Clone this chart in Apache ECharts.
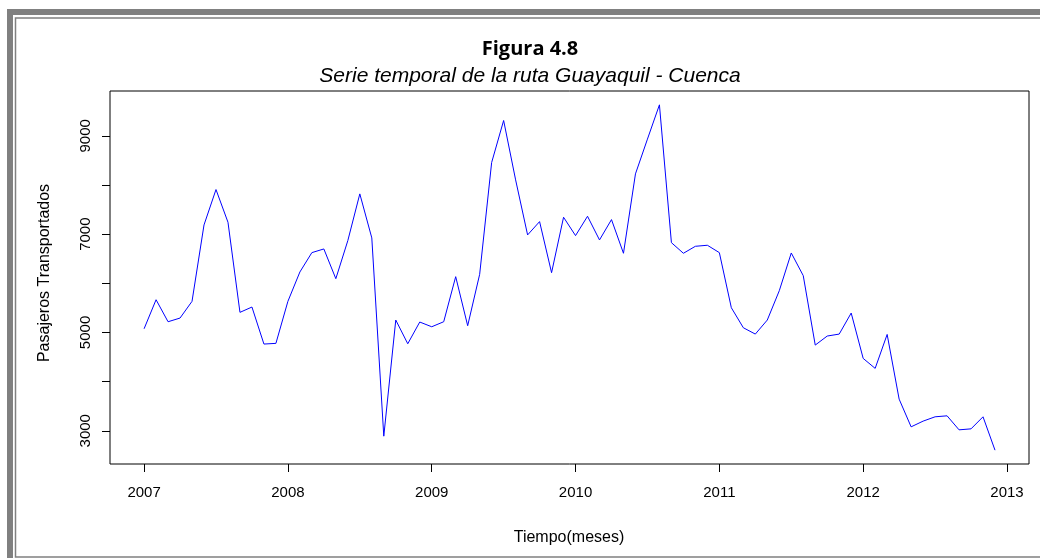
<!DOCTYPE html>
<html>
<head>
<meta charset="utf-8">
<script src="https://cdn.jsdelivr.net/npm/echarts@6/dist/echarts.min.js"></script>
<style>
  html, body { margin: 0; padding: 0; background: #fff; }
  #main { width: 1040px; height: 558px; }
</style>
</head>
<body>
<div id="main"></div>
<script>
// pasajeros por mes, ruta Guayaquil - Cuenca
const anioInicio = 2007;
const pas2007 = [5075, 5666, 5218, 5293, 5633, 7187, 7907, 7242, 5409, 5517, 4764, 4778];
const pas2008 = [5633, 6230, 6624, 6699, 6094, 6868, 7819, 6923, 2890, 5253, 4770, 5212];
const pas2009 = [5116, 5218, 6135, 5137, 6183, 8457, 9312, 8104, 6984, 7255, 6216, 7344];
const pas2010 = [6970, 7364, 6882, 7296, 6611, 8226, 8933, 9631, 6827, 6611, 6753, 6774];
const pas2011 = [6624, 5503, 5096, 4967, 5253, 5849, 6617, 6155, 4743, 4927, 4967, 5395];
const pas2012 = [4472, 4269, 4960, 3644, 3080, 3196, 3284, 3304, 3019, 3039, 3284, 2605];

const anios = [2007, 2008, 2009, 2010, 2011, 2012, 2013];
const yTicks = [3000, 4000, 5000, 6000, 7000, 8000, 9000];
const yLabels = [3000, 5000, 7000, 9000];

const pasajeros = [].concat(pas2007, pas2008, pas2009, pas2010, pas2011, pas2012);
const serie = pasajeros.map((v, i) => [anioInicio + i / 12, v]);

const fuente = "'Liberation Sans', Arial, sans-serif";

const myChart = echarts.init(document.getElementById("main"));
myChart.setOption({
  animation: false,
  grid: {
    left: 110,
    top: 91,
    right: 11,
    bottom: 94,
    show: true,
    borderColor: "#000",
    borderWidth: 1,
  },
  xAxis: {
    type: "value",
    min: 2006.763,
    max: 2013.153,
    axisLine: { show: false },
    splitLine: { show: false },
    axisTick: {
      show: true,
      customValues: anios,
      length: 8,
      lineStyle: { color: "#000" },
    },
    axisLabel: {
      customValues: anios,
      formatter: (v) => String(v),
      margin: 21,
      color: "#000",
      fontSize: 15,
      fontFamily: fuente,
    },
  },
  yAxis: {
    type: "value",
    min: 2324,
    max: 9912,
    axisLine: { show: false },
    splitLine: { show: false },
    axisTick: {
      show: true,
      customValues: yTicks,
      length: 8,
      lineStyle: { color: "#000" },
    },
    axisLabel: {
      customValues: yLabels,
      formatter: (v) => String(v),
      rotate: 90,
      margin: 17,
      color: "#000",
      fontSize: 15,
      fontFamily: fuente,
    },
  },
  graphic: [
    // marco doble gris
    {
      type: "rect",
      shape: { x: 10, y: 12, width: 1100, height: 700 },
      style: { fill: "none", stroke: "#808080", lineWidth: 6 },
    },
    {
      type: "rect",
      shape: { x: 15.5, y: 18, width: 1100, height: 539 },
      style: { fill: "none", stroke: "#808080", lineWidth: 1.5 },
    },
    {
      type: "text",
      x: 530,
      y: 49,
      style: {
        text: "Figura 4.8",
        font: "bold 20px 'Open Sans', sans-serif",
        fill: "#000",
        align: "center",
        verticalAlign: "middle",
      },
    },
    {
      type: "text",
      x: 530,
      y: 76,
      style: {
        text: "Serie temporal de la ruta Guayaquil - Cuenca",
        font: "italic 21px " + fuente,
        fill: "#000",
        align: "center",
        verticalAlign: "middle",
      },
    },
    {
      type: "text",
      x: 45,
      y: 273,
      rotation: Math.PI / 2,
      style: {
        text: "Pasajeros Transportados",
        font: "16px " + fuente,
        fill: "#000",
        align: "center",
        verticalAlign: "middle",
      },
    },
    {
      type: "text",
      x: 569,
      y: 538,
      style: {
        text: "Tiempo(meses)",
        font: "16px " + fuente,
        fill: "#000",
        align: "center",
        verticalAlign: "middle",
      },
    },
  ],
  series: [
    {
      type: "line",
      data: serie,
      showSymbol: false,
      lineStyle: { color: "#0000ff", width: 1 },
    },
  ],
});
</script>
</body>
</html>
